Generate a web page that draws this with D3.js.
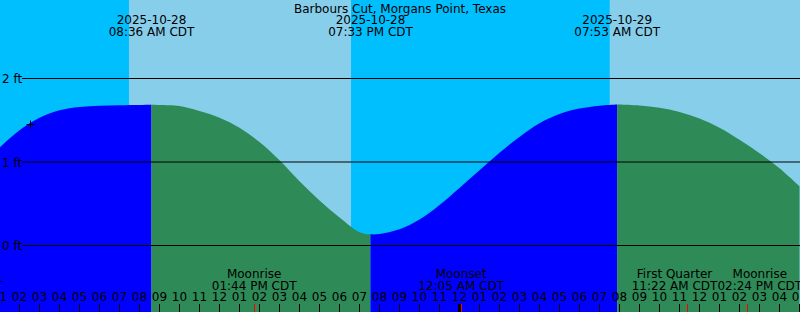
<!DOCTYPE html>
<html>
<head>
<meta charset="utf-8">
<script src="https://cdn.jsdelivr.net/npm/d3@7"></script>
<style>
    html, body { margin: 0; padding: 0; background: #fff; }
    #chart { width: 800px; height: 312px; }
    svg { display: block; font-family: "DejaVu Sans", sans-serif; font-size: 12px; }
</style>
</head>
<body>
<div id="chart"></div>
<script>
// all times are hours counted from 2025-10-28 00:00 CDT
const title = "Barbours Cut, Morgans Point, Texas";

const tideHours = [1, 2, 3, 4, 5, 6, 7, 8, 9, 10, 11, 12, 13, 14, 15, 16, 17, 18, 19, 20,
    21, 22, 23, 24, 25, 26, 27, 28, 29, 30, 31, 32, 33, 34, 35, 36, 37, 38, 39, 40, 41];
const tideFeet = [1.17, 1.38, 1.53, 1.62, 1.66, 1.675, 1.68, 1.683, 1.683, 1.67, 1.61, 1.53, 1.41, 1.24, 1.02, 0.77, 0.54, 0.335, 0.16, 0.138,
    0.194, 0.31, 0.485, 0.69, 0.90, 1.11, 1.30, 1.465, 1.575, 1.64, 1.675, 1.689, 1.677, 1.65, 1.60, 1.52, 1.41, 1.265, 1.105, 0.925, 0.71];

const extremeHours = [8.6, 19.55, 31.883];
const extremeFeet = [1.686, 0.134, 1.69];
const extremeDates = ["2025-10-28", "2025-10-28", "2025-10-29"];
const extremeTimes = ["08:36 AM CDT", "07:33 PM CDT", "07:53 AM CDT"];

const sunriseHours = [7.475, 31.51];
const sunsetHours = [18.575, 55];

const moonHours = [-0.955, 13.733, 24.083, 35.367, 38.4];
const moonNames = ["Moonset", "Moonrise", "Moonset", "First Quarter", "Moonrise"];
const moonTimes = ["11:03 PM CDT", "01:44 PM CDT", "12:05 AM CDT", "11:22 AM CDT", "02:24 PM CDT"];

const levelTicks = [0, 1, 2];
const hourTicks = d3.range(1, 42);

const markHour = 2.54;
const markFeet = 1.46;

function drawTideGraph(selector) {
    const container = d3.select(selector);
    container.selectAll("*").remove();

    const width = 800;
    const height = 312;

    const svg = container.append("svg")
        .attr("width", width)
        .attr("height", height);

    const x = d3.scaleLinear().domain([1, 41]).range([-0.5, 799.5]);
    const y = d3.scaleLinear().domain([0, 2]).range([245.5, 78.5]);

    // night sky, then daylight bands
    svg.append("rect")
        .attr("width", width)
        .attr("height", height)
        .style("fill", "#00bfff");

    svg.selectAll(".day")
        .data(sunriseHours)
        .enter()
        .append("rect")
        .attr("x", d => x(d))
        .attr("y", 0)
        .attr("width", (d, i) => x(sunsetHours[i]) - x(d))
        .attr("height", height)
        .style("fill", "#87ceeb");

    // tide curve, blue while rising and green while falling
    const points = tideHours.map((h, i) => ({ h: h, f: tideFeet[i] }))
        .concat(extremeHours.map((h, i) => ({ h: h, f: extremeFeet[i] })))
        .sort((a, b) => a.h - b.h);

    const area = d3.area()
        .x(d => x(d.h))
        .y0(height)
        .y1(d => y(d.f))
        .curve(d3.curveCatmullRom.alpha(0.5));

    const bounds = [x.invert(-20)].concat(extremeHours, [x.invert(width + 20)]);
    const defs = svg.append("defs");
    for (let i = 0; i < bounds.length - 1; i++) {
        defs.append("clipPath")
            .attr("id", "seg" + i)
            .append("rect")
            .attr("x", x(bounds[i]))
            .attr("y", 0)
            .attr("width", x(bounds[i + 1]) - x(bounds[i]))
            .attr("height", height);

        svg.append("path")
            .datum(points)
            .attr("d", area)
            .attr("clip-path", `url(#seg${i})`)
            .style("fill", i % 2 === 0 ? "#0000ff" : "#2e8b57");
    }

    // level lines
    svg.selectAll(".level")
        .data(levelTicks)
        .enter()
        .append("line")
        .attr("x1", 22)
        .attr("x2", width)
        .attr("y1", d => y(d))
        .attr("y2", d => y(d))
        .style("stroke", "#000")
        .style("stroke-width", 1);

    svg.selectAll(".levelLabel")
        .data(levelTicks)
        .enter()
        .append("text")
        .attr("x", 2)
        .attr("y", d => y(d) + 4.5)
        .style("fill", "#000")
        .text(d => d + " ft");

    // hour ticks along the bottom, a wide one at midnight
    svg.selectAll(".hourTick")
        .data(hourTicks)
        .enter()
        .append("line")
        .attr("x1", d => x(d))
        .attr("x2", d => x(d))
        .attr("y1", 304)
        .attr("y2", height)
        .style("stroke", "#000")
        .style("stroke-width", d => d % 24 === 0 ? 3 : 1);

    svg.selectAll(".hourLabel")
        .data(hourTicks)
        .enter()
        .append("text")
        .attr("x", d => x(d))
        .attr("y", 301)
        .attr("text-anchor", "middle")
        .style("fill", "#000")
        .text(d => String((d + 11) % 12 + 1).padStart(2, "0"));

    // moon events
    svg.selectAll(".moonTick")
        .data(moonHours)
        .enter()
        .append("line")
        .attr("x1", d => Math.round(x(d)) + 0.5)
        .attr("x2", d => Math.round(x(d)) + 0.5)
        .attr("y1", 304)
        .attr("y2", height)
        .style("stroke", "#ff0000")
        .style("stroke-width", 1);

    const moonLabels = svg.selectAll(".moonLabel")
        .data(moonHours)
        .enter()
        .append("g");

    moonLabels.append("text")
        .attr("y", 278)
        .attr("text-anchor", "middle")
        .style("fill", "#000")
        .text((d, i) => moonNames[i]);

    moonLabels.append("text")
        .attr("y", 290)
        .attr("text-anchor", "middle")
        .style("fill", "#000")
        .text((d, i) => moonTimes[i]);

    // push neighbouring labels apart until they just touch
    const centers = moonHours.map(d => x(d));
    const widths = moonLabels.nodes().map(g =>
        d3.max(Array.from(g.querySelectorAll("text")), t => t.getComputedTextLength()));
    for (let i = 0; i < centers.length - 1; i++) {
        const gap = (centers[i + 1] - centers[i]) - (widths[i] + widths[i + 1]) / 2;
        if (gap < 0) {
            centers[i] += gap / 2;
            centers[i + 1] -= gap / 2;
        }
    }
    moonLabels.attr("transform", (d, i) => `translate(${centers[i]},0)`);

    // high / low tide labels at the top
    svg.selectAll(".exDate")
        .data(extremeHours)
        .enter()
        .append("text")
        .attr("x", d => x(d))
        .attr("y", 24)
        .attr("text-anchor", "middle")
        .style("fill", "#000")
        .text((d, i) => extremeDates[i]);

    svg.selectAll(".exTime")
        .data(extremeHours)
        .enter()
        .append("text")
        .attr("x", d => x(d))
        .attr("y", 36)
        .attr("text-anchor", "middle")
        .style("fill", "#000")
        .text((d, i) => extremeTimes[i]);

    svg.append("text")
        .attr("x", width / 2)
        .attr("y", 12.5)
        .attr("text-anchor", "middle")
        .style("fill", "#000")
        .text(title);

    // current time mark
    const mx = Math.round(x(markHour)) + 0.5;
    const my = Math.round(y(markFeet)) + 0.5;
    svg.append("path")
        .attr("d", `M${mx - 4},${my}H${mx + 4}M${mx},${my - 4}V${my + 4}`)
        .style("stroke", "#000")
        .style("stroke-width", 1)
        .style("fill", "none");
}

drawTideGraph("#chart");
</script>
</body>
</html>
